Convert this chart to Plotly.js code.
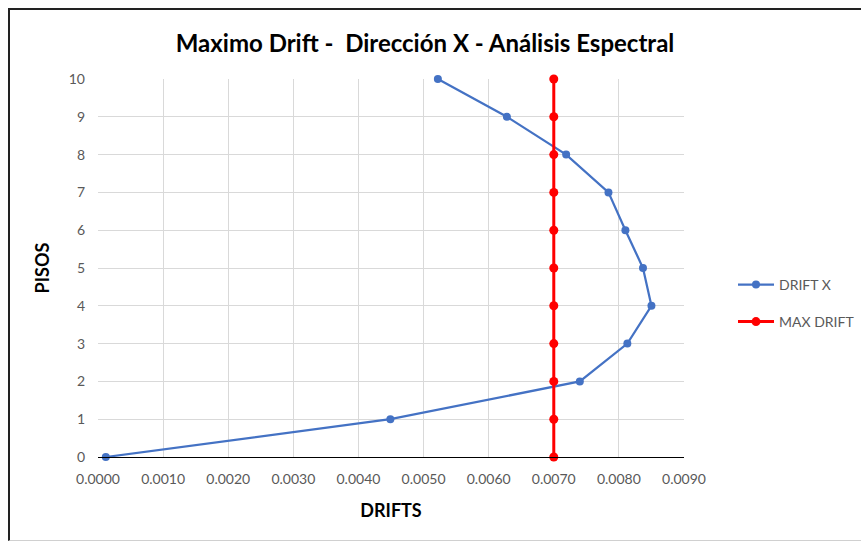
<!DOCTYPE html>
<html>
<head>
<meta charset="utf-8">
<script src="https://cdn.plot.ly/plotly-3.0.1.min.js"></script>
<style>
  html, body { margin: 0; padding: 0; background: #fff; }
  #wrap { position: relative; width: 863px; height: 545px; }
  #chart { width: 863px; height: 545px; }
  #frame { position: absolute; left: 8px; top: 8px; width: 853px; height: 533px;
           border-left: 2px solid #222; border-top: 2px solid #222;
           border-bottom: 1px solid #d0d0d0; pointer-events: none; box-sizing: border-box; }
</style>
</head>
<body>
<div id="wrap">
  <div id="chart"></div>
  <div id="frame"></div>
</div>
<script>
// Data
const floors = [0, 1, 2, 3, 4, 5, 6, 7, 8, 9, 10];
const driftX = [0.00012, 0.00449, 0.00740, 0.00813, 0.00850, 0.00837, 0.00810, 0.00784, 0.00719, 0.00628, 0.00522];
const maxDrift = [0.007, 0.007, 0.007, 0.007, 0.007, 0.007, 0.007, 0.007, 0.007, 0.007, 0.007];
const seriesNames = ["DRIFT X", "MAX DRIFT"];
const xTicks = [0, 0.001, 0.002, 0.003, 0.004, 0.005, 0.006, 0.007, 0.008, 0.009];
const yTicks = [0, 1, 2, 3, 4, 5, 6, 7, 8, 9, 10];
const chartTitle = "Maximo Drift -  Dirección X - Análisis Espectral";
const xTitle = "DRIFTS";
const yTitle = "PISOS";

const FONT = "Lato, 'Open Sans', sans-serif";

const traces = [
  {
    x: driftX, y: floors, name: seriesNames[0], type: "scatter", mode: "lines+markers",
    line: { color: "#4472C4", width: 2.25 },
    marker: { color: "#4472C4", size: 8, symbol: "circle" },
    cliponaxis: false,
    legend: "legend"
  },
  {
    x: maxDrift, y: floors, name: seriesNames[1], type: "scatter", mode: "lines+markers",
    line: { color: "#FF0000", width: 3 },
    marker: { color: "#FF0000", size: 9, symbol: "circle" },
    cliponaxis: false,
    legend: "legend2"
  }
];

const legendCommon = {
  xanchor: "left", yanchor: "middle",
  font: { family: FONT, size: 14, color: "#595959" },
  bgcolor: "rgba(0,0,0,0)", borderwidth: 0,
  itemwidth: 36
};

const layout = {
  width: 863, height: 545,
  margin: { l: 98, r: 179, t: 79, b: 88, autoexpand: false },
  paper_bgcolor: "#ffffff", plot_bgcolor: "#ffffff",
  title: {
    text: chartTitle,
    font: { family: FONT, size: 24, color: "#000", weight: "bold" },
    x: 0.4925, xref: "container", xanchor: "center",
    y: 1 - 44/545, yref: "container", yanchor: "middle"
  },
  xaxis: {
    range: [0, 0.009], tickvals: xTicks, tickformat: ".4f",
    showgrid: true, gridcolor: "#D9D9D9", gridwidth: 1,
    showline: true, linecolor: "#000", linewidth: 1,
    zeroline: false, ticks: "",
    ticklabelstandoff: 9,
    tickfont: { family: FONT, size: 14, color: "#595959" },
    title: { text: xTitle, font: { family: FONT, size: 18, color: "#000", weight: "bold" }, standoff: 18 },
    fixedrange: true
  },
  yaxis: {
    range: [0, 10], tickvals: yTicks,
    showgrid: true, gridcolor: "#D9D9D9", gridwidth: 1,
    showline: false, zeroline: false, ticks: "",
    ticklabelstandoff: 12,
    tickfont: { family: FONT, size: 14, color: "#595959" },
    title: { text: yTitle, font: { family: FONT, size: 18, color: "#000", weight: "bold" }, standoff: 14 },
    fixedrange: true
  },
  showlegend: true,
  legend: Object.assign({ x: (733 - 98) / 586, y: (457 - 285) / 378 }, legendCommon),
  legend2: Object.assign({ x: (733 - 98) / 586, y: (457 - 322) / 378 }, legendCommon)
};

Plotly.newPlot("chart", traces, layout, { displayModeBar: false, staticPlot: true });
</script>
</body>
</html>
